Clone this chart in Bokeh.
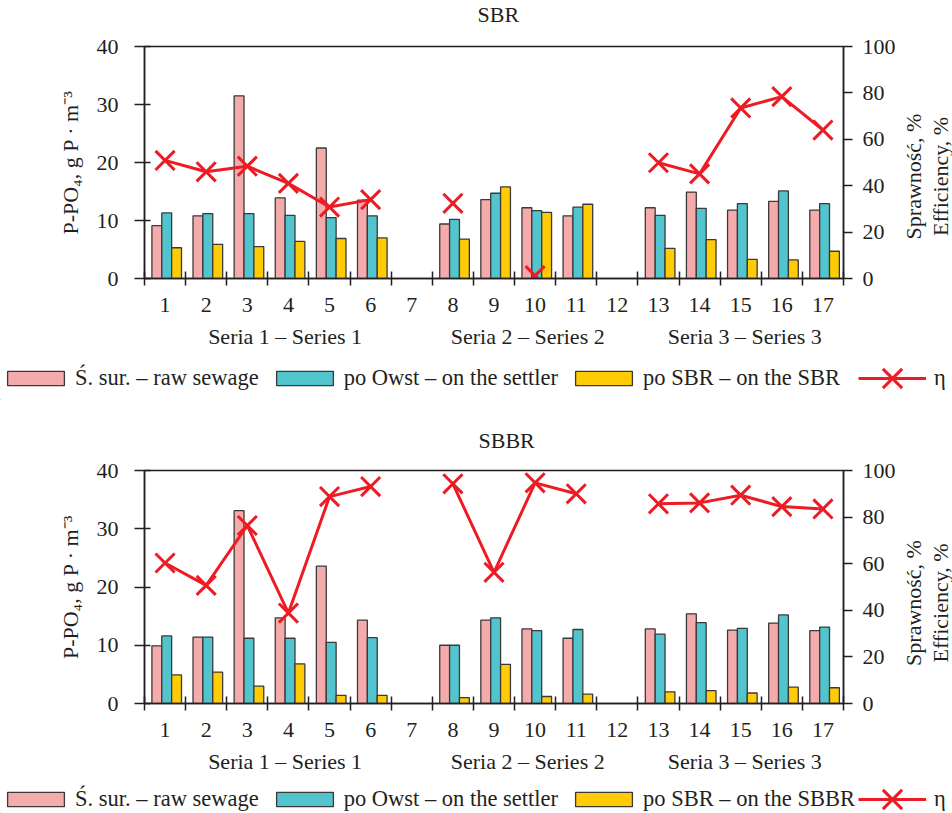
import math
from bokeh.plotting import figure
from bokeh.models import Range1d, LinearAxis, FixedTicker, Legend, LegendItem
from bokeh.layouts import column, row
from bokeh.embed import file_html
from bokeh.resources import INLINE

NAN = float("nan")

# ---------------- data ----------------
samples = list(range(1, 18))
sample_labels = [str(s) for s in samples]
series_names = ["Seria 1 – Series 1", "Seria 2 – Series 2", "Seria 3 – Series 3"]
series_centres = [3.92, 9.82, 15.1]
p_ticks = [0, 10, 20, 30, 40]
eff_ticks = [0, 20, 40, 60, 80, 100]

# SBR panel
raw_sbr = [9.1, 10.8, 31.5, 13.9, 22.5, 13.5, NAN, 9.4, 13.6, 12.2, 10.8, NAN, 12.2, 14.9, 11.8, 13.3, 11.8]
settler_sbr = [11.3, 11.2, 11.2, 10.9, 10.5, 10.8, NAN, 10.2, 14.7, 11.7, 12.3, NAN, 10.9, 12.1, 12.9, 15.1, 12.9]
treated_sbr = [5.3, 5.9, 5.5, 6.4, 6.9, 7.0, NAN, 6.8, 15.8, 11.4, 12.8, NAN, 5.2, 6.7, 3.3, 3.2, 4.7]
eff_sbr = [50.9, 46.0, 48.4, 41.0, 30.8, 34.0, NAN, 32.4, NAN, 1.2, NAN, NAN, 49.9, 45.1, 73.5, 78.4, 64.0]

# SBBR panel
raw_sbbr = [9.9, 11.4, 33.1, 14.7, 23.6, 14.3, NAN, 10.0, 14.3, 12.8, 11.2, NAN, 12.8, 15.4, 12.6, 13.8, 12.5]
settler_sbbr = [11.6, 11.4, 11.2, 11.2, 10.5, 11.3, NAN, 10.0, 14.7, 12.5, 12.7, NAN, 11.9, 13.9, 12.9, 15.2, 13.1]
treated_sbbr = [4.9, 5.4, 3.0, 6.8, 1.4, 1.4, NAN, 1.0, 6.7, 1.2, 1.6, NAN, 2.0, 2.2, 1.8, 2.8, 2.7]
eff_sbbr = [60.3, 50.7, 76.4, 38.8, 88.8, 93.1, NAN, 94.3, 56.3, 94.7, 90.0, NAN, 85.7, 86.1, 89.4, 84.5, 83.5]

names_sbr = ["Ś. sur. – raw sewage", "po Owst – on the settler", "po SBR – on the SBR", "η"]
names_sbbr = ["Ś. sur. – raw sewage", "po Owst – on the settler", "po SBR – on the SBBR", "η"]
left_label = "P-PO₄, g P · m⁻³"
right_label = "Sprawność, %\nEfficiency, %"

# ---------------- style ----------------
FONT = "Liberation Serif"
FS = "22px"
INK = "#231f20"
PINK = "#f5aaac"
CYAN = "#52c4cd"
YELLOW = "#ffcb05"
RED = "#ed1c24"
EDGE = "#3a3a3a"
BAR_COLORS = [PINK, CYAN, YELLOW]
MAIN_W = 898
SIDE_W = 54


def no_align(f):
    try:
        f.frame_align = False
    except Exception:
        pass
    return f


def blank_fig(width, height, **kw):
    f = figure(width=width, height=height, x_range=Range1d(0, 1), y_range=Range1d(0, 1),
               output_backend="svg", toolbar_location=None,
               x_axis_location=None, **kw)
    f.outline_line_color = None
    f.xgrid.visible = False
    f.ygrid.visible = False
    return no_align(f)


def make_title(text, height, location, valign, standoff, offset):
    f = blank_fig(952, height, y_axis_location=None, min_border=0,
                  title=text, title_location=location)
    f.title.align = "left"
    f.title.offset = offset
    f.title.vertical_align = valign
    f.title.standoff = standoff
    f.title.text_font = FONT
    f.title.text_font_size = FS
    f.title.text_font_style = "normal"
    f.title.text_color = INK
    return f


def make_panel(raw, settler, treated, eff, height, top, frame_h):
    p = figure(width=MAIN_W, height=height, x_range=Range1d(0.5, 17.5),
               y_range=Range1d(0, 40), output_backend="svg",
               toolbar_location=None,
               min_border_left=144, min_border_right=MAIN_W - 144 - 700,
               min_border_top=top, min_border_bottom=height - top - frame_h)
    no_align(p)
    p.extra_y_ranges = {"eff": Range1d(0, 100)}
    p.xgrid.visible = False
    p.ygrid.visible = False
    p.outline_line_color = INK
    p.outline_line_width = 1.5

    # bars
    offsets = [-0.2, 0.04, 0.28]
    for vals, off, col in zip([raw, settler, treated], offsets, BAR_COLORS):
        xs = [s + off for s, v in zip(samples, vals) if not math.isnan(v)]
        ys = [v for v in vals if not math.isnan(v)]
        p.vbar(x=xs, top=ys, bottom=0, width=0.24, fill_color=col,
               line_color=EDGE, line_width=1.3)

    # efficiency
    p.line(samples, eff, y_range_name="eff", line_color=RED, line_width=3)
    p.scatter(samples, eff, y_range_name="eff", marker="x", size=27,
              line_color=RED, line_width=3)

    # x axis: sample numbers, tick marks at slot boundaries
    xa = p.xaxis[0]
    xa.ticker = FixedTicker(ticks=samples,
                            minor_ticks=[s - 0.5 for s in samples] + [samples[-1] + 0.5])
    xa.major_label_overrides = {s: lab for s, lab in zip(samples, sample_labels)}
    xa.major_tick_in = 0
    xa.major_tick_out = 0
    xa.minor_tick_in = 7
    xa.minor_tick_out = 7
    xa.minor_tick_line_color = INK
    xa.minor_tick_line_width = 1.5
    xa.axis_line_color = INK
    xa.axis_line_width = 1.5
    xa.major_label_standoff = 12
    xa.major_label_text_font = FONT
    xa.major_label_text_font_size = FS
    xa.major_label_text_color = INK

    # series labels
    sa = LinearAxis(ticker=FixedTicker(ticks=series_centres),
                    major_label_overrides=dict(zip(series_centres, series_names)))
    sa.axis_line_color = None
    sa.major_tick_in = 0
    sa.major_tick_out = 0
    sa.minor_tick_in = 0
    sa.minor_tick_out = 0
    sa.major_label_standoff = 9
    sa.major_label_text_font = FONT
    sa.major_label_text_font_size = FS
    sa.major_label_text_color = INK
    p.add_layout(sa, "below")

    # left axis
    ya = p.yaxis[0]
    ya.ticker = FixedTicker(ticks=p_ticks)
    ya.major_tick_in = 6
    ya.major_tick_out = 10
    ya.minor_tick_in = 0
    ya.minor_tick_out = 0
    ya.major_tick_line_color = INK
    ya.major_tick_line_width = 1.5
    ya.axis_line_color = INK
    ya.axis_line_width = 1.5
    ya.major_label_standoff = 16
    ya.major_label_text_font = FONT
    ya.major_label_text_font_size = FS
    ya.major_label_text_color = INK
    ya.axis_label = left_label
    ya.axis_label_text_font = FONT
    ya.axis_label_text_font_size = FS
    ya.axis_label_text_font_style = "normal"
    ya.axis_label_text_color = INK
    ya.axis_label_standoff = 11

    # right axis (ticks and numbers only; its title sits in the side strip)
    ra = LinearAxis(y_range_name="eff", ticker=FixedTicker(ticks=eff_ticks))
    ra.major_tick_in = 0
    ra.major_tick_out = 9
    ra.minor_tick_in = 0
    ra.minor_tick_out = 0
    ra.major_tick_line_color = INK
    ra.major_tick_line_width = 1.5
    ra.axis_line_color = INK
    ra.axis_line_width = 1.5
    ra.major_label_standoff = 10
    ra.major_label_text_font = FONT
    ra.major_label_text_font_size = FS
    ra.major_label_text_color = INK
    p.add_layout(ra, "right")
    return p


def make_side(height, top, frame_h):
    f = blank_fig(SIDE_W, height, y_axis_location="left",
                  min_border_left=SIDE_W - 1, min_border_right=0,
                  min_border_top=top, min_border_bottom=height - top - frame_h)
    ax = f.yaxis[0]
    ax.ticker = FixedTicker(ticks=[])
    ax.axis_line_color = None
    ax.major_tick_in = 0
    ax.major_tick_out = 0
    ax.minor_tick_in = 0
    ax.minor_tick_out = 0
    ax.major_label_standoff = 0
    ax.major_label_text_font_size = "0px"
    ax.axis_label = right_label
    ax.axis_label_text_font = FONT
    ax.axis_label_text_font_size = FS
    ax.axis_label_text_font_style = "normal"
    ax.axis_label_text_color = INK
    ax.axis_label_text_line_height = 1.05
    ax.axis_label_standoff = 0
    return f


def make_legend(names, height):
    f = blank_fig(952, height, y_axis_location=None, min_border=0)
    # legend-only renderers, kept outside the visible range
    bars = [f.vbar(x=[-5], top=[-5], bottom=-6, width=0.1, fill_color=c,
                   line_color=EDGE, line_width=1.3) for c in BAR_COLORS]
    lr = f.line(x=[-5, -4], y=[-5, -5], line_color=RED, line_width=3)
    sr = f.scatter(x=[-5], y=[-5], marker="x", line_color=RED, line_width=3)
    common = dict(orientation="horizontal", padding=0, margin=0,
                  background_fill_alpha=0, border_line_alpha=0,
                  label_text_font=FONT, label_text_font_size="22.5px",
                  label_text_color=INK)
    bar_leg = Legend(items=[LegendItem(label=n, renderers=[r])
                            for n, r in zip(names[:3], bars)],
                     location="left", glyph_width=71, glyph_height=18,
                     label_standoff=4, spacing=10, label_height=18, **common)
    eta_leg = Legend(items=[LegendItem(label=names[3], renderers=[lr, sr])],
                     location=(858, (height - 68) / 2), glyph_width=68, glyph_height=68,
                     label_standoff=8, **common)
    f.add_layout(bar_leg)
    f.add_layout(eta_leg)
    return f


t1 = make_title("SBR", 31, "above", "top", 2, 477)
p1 = make_panel(raw_sbr, settler_sbr, treated_sbr, eff_sbr, height=324, top=15, frame_h=232)
s1 = make_side(324, 29, 232)
l1 = make_legend(names_sbr, 45)

t2 = make_title("SBBR", 55, "below", "bottom", 6, 478)
p2 = make_panel(raw_sbbr, settler_sbbr, treated_sbbr, eff_sbbr, height=330, top=15, frame_h=233)
s2 = make_side(330, 31, 233)
l2 = make_legend(names_sbbr, 28)

layout = column(t1, row(p1, s1, spacing=0), l1, t2, row(p2, s2, spacing=0), l2, spacing=0)
open("out.html", "w").write(file_html(layout, INLINE))
